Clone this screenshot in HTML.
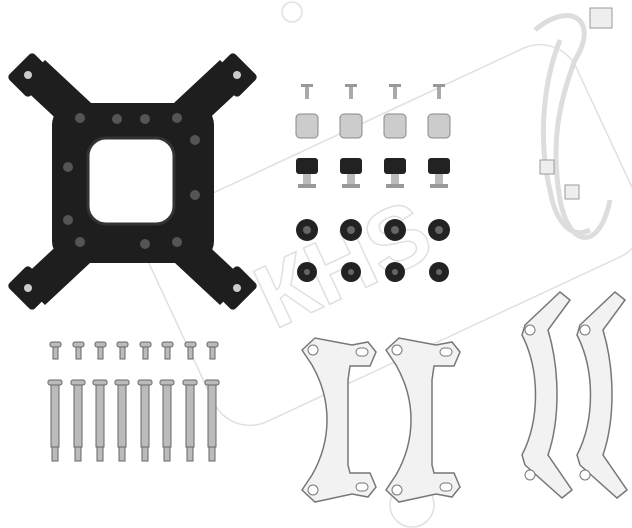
<!DOCTYPE html><html><head><style>body{margin:0;background:#fff}svg{display:block}</style></head><body>
<svg width="632" height="528" viewBox="0 0 632 528" xmlns="http://www.w3.org/2000/svg">
<rect width="632" height="528" fill="#fff"/>
<!-- watermark -->
<g fill="none" stroke="#e0e0e0" stroke-width="1.5">
<rect x="160" y="120" width="470" height="230" rx="40" transform="rotate(-25 395 235)"/>
<circle cx="292" cy="12" r="10"/>
<circle cx="412" cy="505" r="22"/>
</g>
<text x="250" y="300" font-family="Liberation Sans,sans-serif" font-size="90" font-weight="bold" fill="none" stroke="#e0e0e0" stroke-width="1.5" transform="rotate(-25 330 260)">КНS</text>
<!-- backplate -->
<g fill="#1e1e1e">
<rect x="52" y="103" width="162" height="160" rx="22"/>
<path d="M20,85 L45,60 L120,130 L95,155 Z"/>
<path d="M245,85 L220,60 L145,130 L170,155 Z"/>
<path d="M20,280 L45,305 L120,235 L95,210 Z"/>
<path d="M245,280 L220,305 L145,235 L170,210 Z"/>
<rect x="12" y="60" width="36" height="30" rx="4" transform="rotate(-45 30 75)"/>
<rect x="217" y="60" width="36" height="30" rx="4" transform="rotate(45 235 75)"/>
<rect x="12" y="273" width="36" height="30" rx="4" transform="rotate(45 30 288)"/>
<rect x="217" y="273" width="36" height="30" rx="4" transform="rotate(-45 235 288)"/>
</g>
<rect x="88" y="138" width="86" height="86" rx="18" fill="#fff" stroke="#333" stroke-width="3"/>
<g fill="#555"><circle cx="117" cy="119" r="5"/><circle cx="145" cy="119" r="5"/><circle cx="68" cy="167" r="5"/><circle cx="195" cy="195" r="5"/><circle cx="145" cy="244" r="5"/><circle cx="80" cy="242" r="5"/><circle cx="177" cy="242" r="5"/><circle cx="80" cy="118" r="5"/><circle cx="177" cy="118" r="5"/><circle cx="68" cy="220" r="5"/><circle cx="195" cy="140" r="5"/></g>
<g fill="#ccc"><circle cx="28" cy="75" r="4"/><circle cx="237" cy="75" r="4"/><circle cx="28" cy="288" r="4"/><circle cx="237" cy="288" r="4"/></g>
<!-- pins -->
<g fill="#bbb" stroke="#666" stroke-width="1">
<g id="p"><rect x="50" y="342" width="11" height="5" rx="2"/><rect x="53" y="347" width="5" height="12"/><rect x="48" y="380" width="14" height="5" rx="2"/><rect x="51" y="385" width="8" height="62"/><rect x="52" y="447" width="6" height="14"/></g>
<use href="#p" x="23"/><use href="#p" x="45"/><use href="#p" x="67"/><use href="#p" x="90"/><use href="#p" x="112"/><use href="#p" x="135"/><use href="#p" x="157"/>
</g>
<!-- screws & nuts -->
<g id="s">
<rect x="301" y="84" width="12" height="3" fill="#999"/><rect x="305" y="87" width="4" height="12" fill="#aaa"/>
<rect x="296" y="114" width="22" height="24" rx="4" fill="#ccc" stroke="#888"/>
<rect x="296" y="158" width="22" height="16" rx="3" fill="#222"/><rect x="303" y="174" width="8" height="10" fill="#bbb"/><rect x="298" y="184" width="18" height="4" fill="#999"/>
<circle cx="307" cy="230" r="11" fill="#222"/><circle cx="307" cy="230" r="4" fill="#666"/>
<circle cx="307" cy="272" r="10" fill="#222"/><circle cx="307" cy="272" r="3" fill="#666"/>
</g>
<use href="#s" x="44"/><use href="#s" x="88"/><use href="#s" x="132"/>
<!-- cable -->
<g fill="none" stroke="#ddd" stroke-width="5">
<path d="M535,30 C570,0 600,20 575,60 C560,100 550,140 560,200 C570,250 600,250 610,200"/>
<path d="M560,40 C540,90 540,150 550,190 C555,220 570,240 590,230"/>
</g>
<rect x="590" y="8" width="22" height="20" fill="#eee" stroke="#999"/>
<rect x="565" y="185" width="14" height="14" fill="#eee" stroke="#999"/>
<rect x="540" y="160" width="14" height="14" fill="#eee" stroke="#999"/>
<!-- brackets -->
<g fill="#f2f2f2" stroke="#777" stroke-width="1.5">
<path id="b1" d="M302,350 L315,338 L352,345 L368,342 L376,352 L370,366 L350,366 L348,380 L348,465 L350,473 L370,473 L376,487 L368,497 L352,494 L315,502 L302,490 L312,475 C332,440 332,400 312,365 Z"/>
<use href="#b1" x="84"/>
<path id="b2" d="M525,325 L560,292 L570,300 L548,330 C560,370 560,420 548,455 L572,490 L562,498 L525,465 L522,455 C540,420 540,370 522,335 Z"/>
<use href="#b2" x="55"/>
</g>
<g fill="#fff" stroke="#777"><circle cx="313" cy="350" r="5"/><circle cx="397" cy="350" r="5"/><circle cx="313" cy="490" r="5"/><circle cx="397" cy="490" r="5"/><circle cx="530" cy="330" r="5"/><circle cx="585" cy="330" r="5"/><circle cx="530" cy="475" r="5"/><circle cx="585" cy="475" r="5"/>
<rect x="356" y="348" width="12" height="8" rx="4"/><rect x="440" y="348" width="12" height="8" rx="4"/><rect x="356" y="483" width="12" height="8" rx="4"/><rect x="440" y="483" width="12" height="8" rx="4"/></g>
</svg>
</body></html>
